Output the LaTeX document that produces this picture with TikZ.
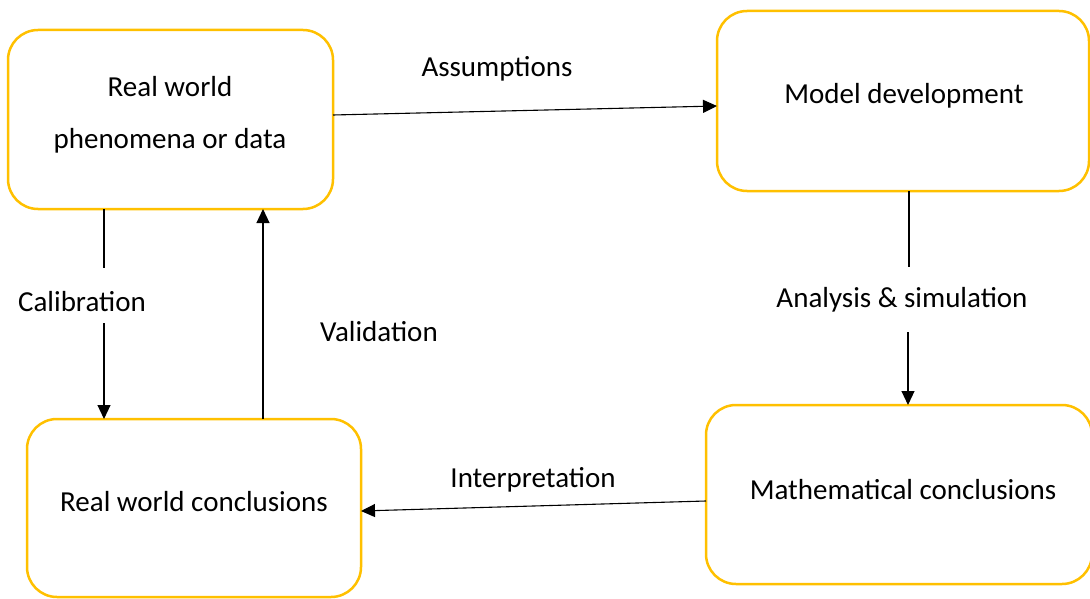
\documentclass[tikz,border=0pt]{standalone}
\usepackage{fontspec}
\setmainfont{Carlito}
\usetikzlibrary{arrows.meta}
\definecolor{gold}{HTML}{FFC000}
\tikzset{
  stage/.style={draw=gold, line width=2.5pt, rounded corners=30pt,
    minimum width=#1, inner sep=0pt, outer sep=0pt},
  txt/.style={font=\fontsize{29}{35}\selectfont, inner sep=0pt, align=center},
  link/.style={line width=1.1pt, draw=black},
  arr/.style={link, -{Triangle[length=14pt,width=13pt]}},
}
\begin{document}
\begin{tikzpicture}[x=1pt,y=-1pt]
\useasboundingbox (0,0) rectangle (1090,599);

% stages of the modelling cycle
\node[stage=325pt, minimum height=179pt] (A) at (170.5,119.5) {};
\node[stage=372pt, minimum height=180pt] (B) at (903,101) {};
\node[stage=334pt, minimum height=178pt] (C) at (194,508) {};
\node[stage=386pt, minimum height=179pt] (D) at (899,494.5) {};

\node[txt] (tA1) at (170,87) {Real world};
\node[txt] (tA2) at (170,141) {phenomena or data};
\node[txt] (tB) at (904,96) {Model development};
\node[txt] (tC) at (194,502) {Real world conclusions};
\node[txt] (tD) at (903,490) {Mathematical conclusions};

% transitions
\coordinate (xcal) at (104,0);
\coordinate (xval) at (263,0);
\coordinate (ana1) at (909,267);
\coordinate (ana2) at (908,332);
\coordinate (cal1) at (104,268);
\coordinate (cal2) at (104,323);

\draw[arr] (A.east |- 0,115) -- (B.west |- 0,106);
\draw[link] (B.south -| ana1) -- (ana1);
\draw[arr] (ana2) -- (D.north -| ana2);
\draw[arr] (D.west |- 0,501) -- (C.east |- 0,511);
\draw[arr] (C.north -| xval) -- (A.south -| xval);
\draw[link] (A.south -| xcal) -- (cal1);
\draw[arr] (cal2) -- (C.north -| xcal);

\node[txt] (lAs) at (497,69) {Assumptions};
\node[txt] (lAn) at (902,300) {Analysis \& simulation};
\node[txt] (lCa) at (82,302) {Calibration};
\node[txt] (lVa) at (379,332) {Validation};
\node[txt] (lIn) at (533,480) {Interpretation};
\end{tikzpicture}
\end{document}
